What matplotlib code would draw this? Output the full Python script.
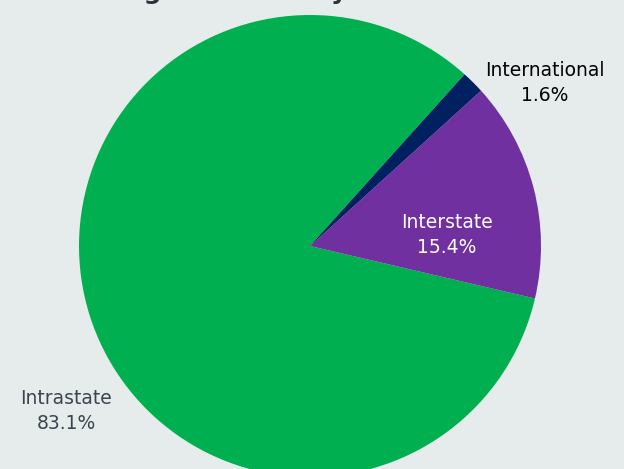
import matplotlib
matplotlib.use("Agg")
import matplotlib.pyplot as plt

# data
categories = ["Intrastate", "Interstate", "International"]
shares = [83.1, 15.4, 1.6]
colors = ["#00B050", "#7030A0", "#002060"]
title = "Tonnage Handled by Direction"

W, H = 624, 469
bg = "#E6ECEB"

fig = plt.figure(figsize=(W / 100, H / 100), dpi=100, facecolor=bg)
ax = fig.add_axes([0, 0, 1, 1])
ax.set_facecolor(bg)

# pie in pixel-like coordinates (y measured from bottom)
ax.pie(shares, colors=colors, startangle=48, counterclock=True,
       radius=231, center=(310, H - 246),
       wedgeprops=dict(linewidth=0))
ax.set_xlim(0, W)
ax.set_ylim(0, H)
ax.set_aspect("equal")
ax.axis("off")

# labels: (x, y from top, colour)
label_pos = [(66, 411, "#3B4550"), (447, 235, "white"), (545, 83, "black")]
for name, val, (x, y, c) in zip(categories, shares, label_pos):
    ax.text(x, H - y, f"{name}\n{val:.1f}%", ha="center", va="center",
            fontsize=13.5, color=c, linespacing=1.4)

# title sits mostly above the visible area, as in the source
fig.text(0.437, 1 + 1 / H, title, ha="center", va="baseline",
         fontsize=18, fontweight="bold", color="#2B323C")

fig.savefig("out.png", dpi=100, facecolor=bg)
